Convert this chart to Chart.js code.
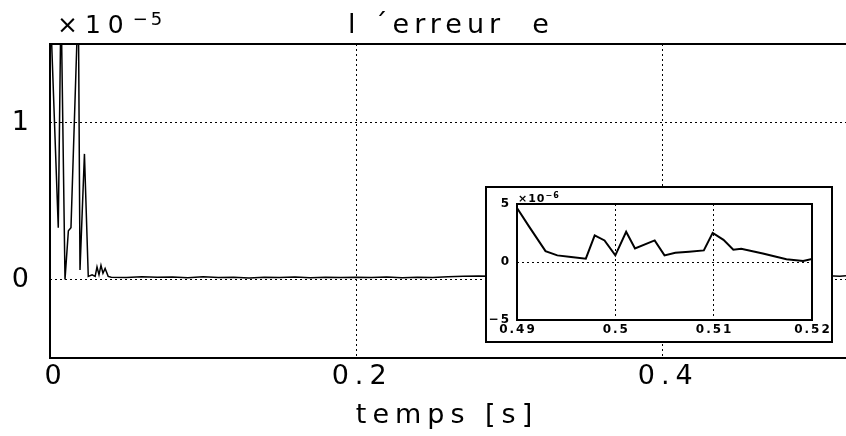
<!DOCTYPE html>
<html>
<head>
<meta charset="utf-8">
<title>l'erreur e</title>
<script src="https://cdn.jsdelivr.net/npm/chart.js@4.4.0/dist/chart.umd.min.js"></script>
<style>
  html, body { margin: 0; padding: 0; background: #fff; overflow: hidden; }
  #wrap { position: relative; width: 846px; height: 436px; }
  #mainChart { position: absolute; left: 0; top: 0; }
  #insetBox {
    position: absolute; left: 485px; top: 186px;
    width: 344px; height: 153px;
    border: 2px solid #000; background: #fff;
  }
  #insetChart { position: absolute; left: 0; top: 0; }
</style>
</head>
<body>
<div id="wrap">
  <canvas id="mainChart" width="846" height="436"></canvas>
  <div id="insetBox"><canvas id="insetChart" width="344" height="153"></canvas></div>
</div>
<script>
// main plot: error in units of 1e-5
var mainTime = [0, 0.0054, 0.0072, 0.0098, 0.012, 0.0137, 0.0185, 0.0196, 0.0225, 0.025,
    0.0275, 0.0295, 0.0307, 0.032, 0.0333, 0.0346, 0.036, 0.038,
    0.04, 0.05, 0.06, 0.07, 0.08, 0.09, 0.10, 0.11, 0.12, 0.13, 0.14, 0.15, 0.16, 0.17,
    0.18, 0.19, 0.20, 0.21, 0.22, 0.23, 0.24, 0.25, 0.26, 0.27, 0.28, 0.29, 0.30,
    0.35, 0.40, 0.45, 0.50, 0.505, 0.51, 0.512, 0.516, 0.52];
var mainErr = [1.8, 0.33, 1.8, 0.0, 0.31, 0.33, 1.8, 0.06, 0.8, 0.02,
    0.03, 0.02, 0.08, 0.03, 0.09, 0.04, 0.07, 0.02,
    0.015, 0.012, 0.018, 0.014, 0.016, 0.011, 0.017, 0.013, 0.015, 0.010, 0.014, 0.012, 0.016, 0.011,
    0.015, 0.013, 0.014, 0.012, 0.016, 0.011, 0.015, 0.013, 0.017, 0.02, 0.022, 0.02, 0.021,
    0.02, 0.022, 0.02, 0.021, 0.02, 0.022, 0.022, 0.02, 0.024];
var mainXTicks = [0, 0.2, 0.4];
var mainYTicks = [0, 1];

// inset: zoom on 0.49 .. 0.52, error in units of 1e-6
var insetTime = [0.49, 0.4912, 0.4929, 0.4941, 0.4955, 0.497, 0.4979, 0.4989, 0.5, 0.5011,
    0.502, 0.504, 0.505, 0.5061, 0.5075, 0.509, 0.5099, 0.511, 0.512, 0.5128,
    0.515, 0.5174, 0.5191, 0.52];
var insetErr = [4.66, 3.09, 0.94, 0.57, 0.43, 0.29, 2.29, 1.86, 0.57, 2.6,
    1.17, 1.86, 0.57, 0.8, 0.89, 1.0, 2.51, 1.91, 1.06, 1.14,
    0.74, 0.23, 0.09, 0.26];
var insetXTicks = [0.49, 0.5, 0.51, 0.52];
var insetYTicks = [-5, 0, 5];

var titleText = "l \u00b4erreur  e";
var xTitle = "temps [s]";
var mainExp = "\u22125";
var insetExp = "\u22126";

var FONT = '"DejaVu Sans", "Liberation Sans", sans-serif';

function pts(xs, ys) {
    return xs.map((x, i) => ({ x: x, y: ys[i] }));
}

// box around the plot area
var frame = {
    id: "frame",
    afterDraw(chart, args, opts) {
        var ctx = chart.ctx, a = chart.chartArea;
        ctx.save();
        ctx.strokeStyle = "#000";
        ctx.lineWidth = opts.width;
        ctx.beginPath();
        ctx.moveTo(a.right, a.top);
        ctx.lineTo(a.left, a.top);
        ctx.lineTo(a.left, a.bottom);
        ctx.lineTo(a.right, a.bottom);
        if (opts.closed) ctx.closePath();
        ctx.stroke();
        ctx.restore();
    },
};

// wide letter spacing like the plotter font
var spacing = {
    id: "spacing",
    beforeDraw(chart, args, opts) {
        chart.ctx.letterSpacing = opts.px + "px";
    },
};

var mainText = {
    id: "mainText",
    afterDraw(chart) {
        var ctx = chart.ctx, a = chart.chartArea;
        ctx.save();
        ctx.fillStyle = "#000";
        ctx.textBaseline = "alphabetic";
        ctx.font = "27px " + FONT;
        ctx.letterSpacing = "5px";
        ctx.textAlign = "center";
        ctx.fillText(titleText, (a.left + a.right) / 2 + 3, a.top - 11);
        ctx.letterSpacing = "6px";
        ctx.fillText(xTitle, 447, a.bottom + 65);
        ctx.textAlign = "left";
        ctx.font = "25px " + FONT;
        ctx.letterSpacing = "7px";
        ctx.fillText("\u00d710", a.left + 7, a.top - 11);
        var w = ctx.measureText("\u00d710").width;
        ctx.font = "18px " + FONT;
        ctx.letterSpacing = "3px";
        ctx.fillText(mainExp, a.left + 9 + w, a.top - 19);
        ctx.restore();
    },
};

var insetText = {
    id: "insetText",
    afterDraw(chart) {
        var ctx = chart.ctx, a = chart.chartArea;
        ctx.save();
        ctx.fillStyle = "#000";
        ctx.textBaseline = "alphabetic";
        ctx.textAlign = "left";
        ctx.font = "bold 11px " + FONT;
        ctx.letterSpacing = "1px";
        ctx.fillText("\u00d710", a.left + 1, a.top - 2);
        var w = ctx.measureText("\u00d710").width;
        ctx.font = "bold 8px " + FONT;
        ctx.fillText(insetExp, a.left + 1 + w, a.top - 6);
        ctx.restore();
    },
};

function fixedTicks(list) {
    return function (scale) {
        scale.ticks = list.map((v) => ({ value: v }));
    };
}

new Chart(document.getElementById("mainChart").getContext("2d"), {
    type: "line",
    data: {
        datasets: [
            {
                data: pts(mainTime, mainErr),
                borderColor: "#000",
                borderWidth: 1.5,
                pointRadius: 0,
                tension: 0,
            },
        ],
    },
    options: {
        responsive: false,
        animation: false,
        devicePixelRatio: 1,
        layout: { padding: { top: 44, left: 0, right: 0, bottom: 0 } },
        plugins: {
            legend: { display: false },
            tooltip: { enabled: false },
            frame: { width: 2, closed: false },
            spacing: { px: 6 },
        },
        scales: {
            x: {
                type: "linear",
                min: 0,
                max: 0.52,
                afterBuildTicks: fixedTicks(mainXTicks),
                afterFit: (s) => { s.height = 78; },
                grid: { color: "#000", lineWidth: 1, drawTicks: false },
                border: { display: false, dash: [2, 3] },
                ticks: {
                    color: "#000",
                    font: { family: FONT, size: 27 },
                    padding: 3,
                    labelOffset: 6,
                    maxRotation: 0,
                    callback: (v) => String(v),
                },
            },
            y: {
                type: "linear",
                min: -0.5,
                max: 1.5,
                afterBuildTicks: fixedTicks(mainYTicks),
                afterFit: (s) => { s.width = 50; },
                grid: { color: "#000", lineWidth: 1, drawTicks: false },
                border: { display: false, dash: [2, 3] },
                ticks: {
                    color: "#000",
                    font: { family: FONT, size: 27 },
                    padding: 18,
                    crossAlign: "center",
                    callback: (v) => String(v),
                },
            },
        },
    },
    plugins: [spacing, frame, mainText],
});

new Chart(document.getElementById("insetChart").getContext("2d"), {
    type: "line",
    data: {
        datasets: [
            {
                data: pts(insetTime, insetErr),
                borderColor: "#000",
                borderWidth: 2,
                pointRadius: 0,
                tension: 0,
            },
        ],
    },
    options: {
        responsive: false,
        animation: false,
        devicePixelRatio: 1,
        layout: { padding: { top: 16, left: 0, right: 19, bottom: 0 } },
        plugins: {
            legend: { display: false },
            tooltip: { enabled: false },
            frame: { width: 2, closed: true },
            spacing: { px: 2 },
        },
        scales: {
            x: {
                type: "linear",
                min: 0.49,
                max: 0.52,
                afterBuildTicks: fixedTicks(insetXTicks),
                afterFit: (s) => { s.height = 21; },
                grid: { color: "#000", lineWidth: 1, drawTicks: false },
                border: { display: false, dash: [2, 3] },
                ticks: {
                    color: "#000",
                    font: { family: FONT, size: 12, weight: "bold" },
                    padding: 3,
                    labelOffset: 1,
                    maxRotation: 0,
                    autoSkip: false,
                    callback: (v) => String(v),
                },
            },
            y: {
                type: "linear",
                min: -5,
                max: 5,
                afterBuildTicks: fixedTicks(insetYTicks),
                afterFit: (s) => { s.width = 30; },
                grid: { color: "#000", lineWidth: 1, drawTicks: false },
                border: { display: false, dash: [2, 3] },
                ticks: {
                    color: "#000",
                    font: { family: FONT, size: 12, weight: "bold" },
                    padding: 6,
                    callback: (v) => (v < 0 ? "\u2212" + Math.abs(v) : String(v)),
                },
            },
        },
    },
    plugins: [spacing, frame, insetText],
});
</script>
</body>
</html>
